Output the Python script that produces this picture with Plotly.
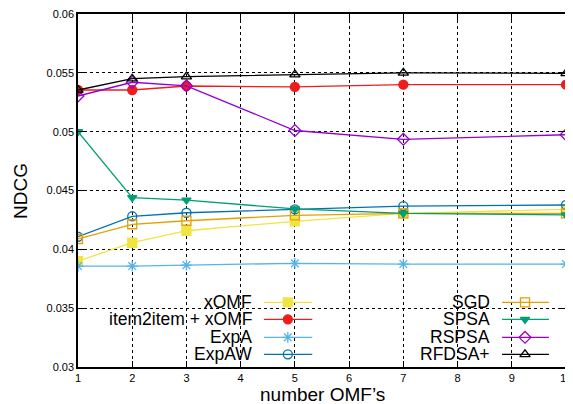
import plotly.graph_objects as go

x_vals = [1, 2, 3, 5, 7, 10]

xomf = [0.0390, 0.04056, 0.04158, 0.04238, 0.04305, 0.04340]
item2item_xomf = [0.05354, 0.05354, 0.05388, 0.05380, 0.05399, 0.05399]
expa = [0.03858, 0.03858, 0.03866, 0.03881, 0.03875, 0.03875]
expaw = [0.04107, 0.04281, 0.04311, 0.04340, 0.04368, 0.04377]
sgd = [0.04088, 0.04213, 0.04243, 0.04289, 0.04306, 0.04306]
spsa = [0.0500, 0.04440, 0.04419, 0.04343, 0.04306, 0.04292]
rspsa = [0.05303, 0.05420, 0.05390, 0.05010, 0.04935, 0.04974]
rfdsa = [0.05354, 0.05450, 0.05468, 0.05485, 0.05500, 0.05496]

y_ticks = [0.03, 0.035, 0.04, 0.045, 0.05, 0.055, 0.06]
y_tick_labels = ["0.03", "0.035", "0.04", "0.045", "0.05", "0.055", "0.06"]
x_ticks = list(range(1, 11))

series = [
    ("xOMF", xomf, "#f0e442", "square", 9),
    ("item2item + xOMF", item2item_xomf, "#ee1c1c", "circle", 9),
    ("ExpA", expa, "#56b4e9", "asterisk-open", 9),
    ("ExpAW", expaw, "#0072b2", "circle-open", 9),
    ("SGD", sgd, "#e69f00", "square-open", 9),
    ("SPSA", spsa, "#009e73", "triangle-down", 8),
    ("RSPSA", rspsa, "#9400d3", "diamond-open", 9),
    ("RFDSA+", rfdsa, "#000000", "triangle-up-open", 9),
]

font_family = "Liberation Sans, Arial, sans-serif"

fig = go.Figure()
for name, ys, color, sym, size in series:
    fig.add_trace(go.Scatter(
        x=x_vals, y=ys, mode="lines+markers", name=name,
        line=dict(color=color, width=1.3),
        marker=dict(symbol=sym, size=size, color=color,
                    line=dict(color=color, width=1.3)),
        showlegend=False,
    ))

# custom gnuplot-style legend (keys on an overlay axis in 0..1 units)
left_text_x = 0.359
right_text_x = 0.846
left_key = (0.381, 0.430, 0.480)
right_key = (0.869, 0.916, 0.965)
rows_y = [0.183, 0.135, 0.084, 0.036]

annotations = []
for i, (name, ys, color, sym, size) in enumerate(series):
    col = i // 4
    row = i % 4
    tx = left_text_x if col == 0 else right_text_x
    k = left_key if col == 0 else right_key
    yy = rows_y[row]
    annotations.append(dict(
        x=tx, y=yy, xref="x2", yref="y2", text=name, showarrow=False,
        xanchor="right", yanchor="middle", borderpad=0,
        font=dict(family=font_family, size=17.5, color="black"),
    ))
    fig.add_trace(go.Scatter(
        x=[k[0], k[2]], y=[yy, yy], xaxis="x2", yaxis="y2", mode="lines",
        line=dict(color=color, width=1.3), showlegend=False, hoverinfo="skip",
    ))
    fig.add_trace(go.Scatter(
        x=[k[1]], y=[yy], xaxis="x2", yaxis="y2", mode="markers",
        marker=dict(symbol=sym, size=size, color=color,
                    line=dict(color=color, width=1.3)),
        showlegend=False, hoverinfo="skip",
    ))

# axis titles
annotations.append(dict(
    x=0.5, y=-0.078, xref="paper", yref="paper", text="number OMF’s",
    showarrow=False, xanchor="center", yanchor="middle", borderpad=0,
    font=dict(family=font_family, size=19, color="black"),
))
annotations.append(dict(
    x=-0.118, y=0.5, xref="paper", yref="paper", text="NDCG", textangle=-90,
    showarrow=False, xanchor="center", yanchor="middle",
    font=dict(family=font_family, size=19, color="black"),
))

# the page adds an 8px body margin, so the figure is sized to fit inside it
fig.update_layout(
    width=565, height=396,
    margin=dict(l=70, r=7, t=6, b=37),
    paper_bgcolor="white", plot_bgcolor="white",
    font=dict(family=font_family, color="black"),
    xaxis=dict(
        range=[1, 10], tickvals=x_ticks, ticktext=[str(v) for v in x_ticks],
        showgrid=True, gridcolor="black", griddash="dot", gridwidth=1,
        showline=True, linecolor="black", linewidth=1.5, mirror="ticks",
        ticks="inside", ticklen=6, tickcolor="black",
        tickfont=dict(size=11), zeroline=False, automargin=False,
        ticklabeloverflow="allow",
    ),
    yaxis=dict(
        range=[0.03, 0.06], tickvals=y_ticks, ticktext=y_tick_labels,
        showgrid=True, gridcolor="black", griddash="dot", gridwidth=1,
        showline=True, linecolor="black", linewidth=1.5, mirror="ticks",
        ticks="inside", ticklen=6, tickcolor="black",
        tickfont=dict(size=11), zeroline=False, automargin=False,
        ticklabeloverflow="allow",
    ),
    xaxis2=dict(range=[0, 1], overlaying="x", visible=False, fixedrange=True),
    yaxis2=dict(range=[0, 1], overlaying="y", visible=False, fixedrange=True),
    shapes=[dict(type="rect", xref="paper", yref="paper", x0=0.003, x1=0.997,
                 y0=0.004, y1=0.224, fillcolor="white", line=dict(width=0),
                 layer="between")],
    annotations=annotations,
)

fig.write_html("out.html")
